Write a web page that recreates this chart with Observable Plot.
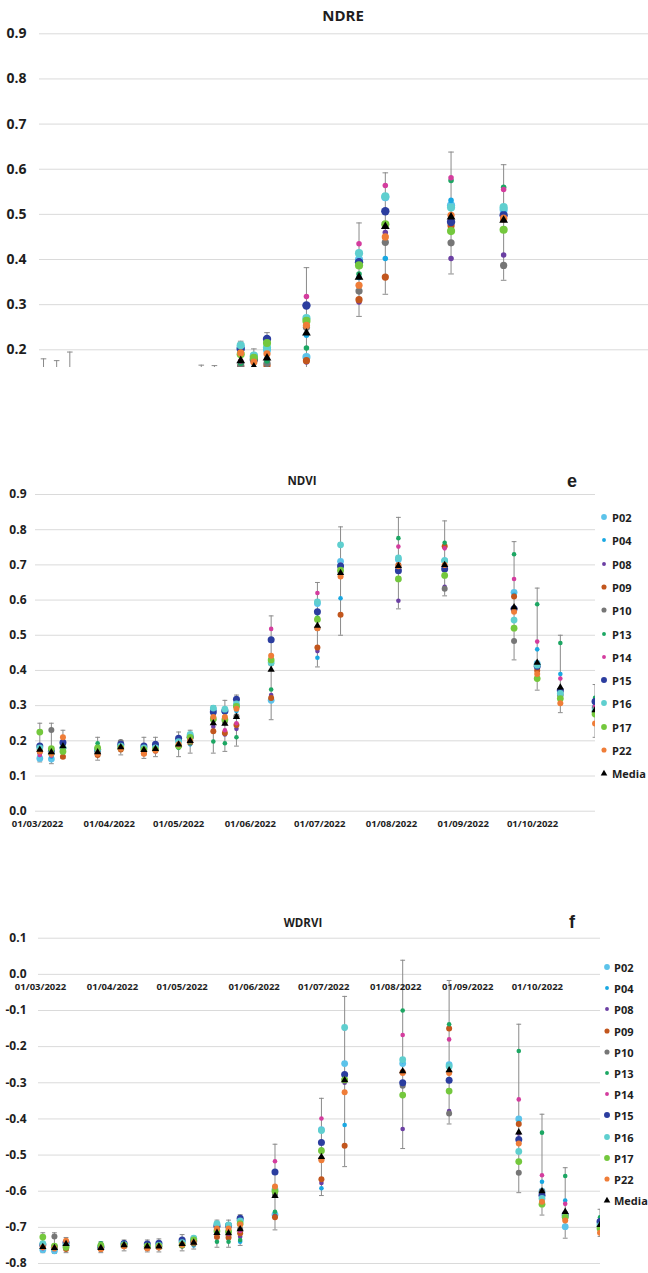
<!DOCTYPE html>
<html><head><meta charset="utf-8">
<script src="https://cdn.jsdelivr.net/npm/d3@7"></script>
<script src="https://cdn.jsdelivr.net/npm/@observablehq/plot@0.6"></script>
<style>
body{margin:0;background:#fff;}
#root{position:relative;width:648px;height:1273px;overflow:hidden;font-family:"Open Sans",sans-serif;color:#1e1e1e;}
.panel{position:absolute;left:0;}
.title{position:absolute;transform:translate(-50%,-50%);white-space:nowrap;font-weight:700;line-height:1;}
.letter{position:absolute;transform:translate(-50%,-50%);font-family:"Liberation Sans",Arial,sans-serif;font-weight:700;font-size:18px;line-height:1;}
.item{position:absolute;white-space:nowrap;font-weight:700;font-size:11px;line-height:1;transform:translateY(-50%);}
.mk{position:absolute;}
</style></head><body><div id="root"></div>
<script>
// ---------- categories ----------
const dates = ["2022-03-02","2022-03-07","2022-03-12","2022-03-27","2022-04-06","2022-04-16","2022-04-21","2022-05-01","2022-05-06","2022-05-16","2022-05-21","2022-05-26","2022-06-10","2022-06-30","2022-07-10","2022-08-04","2022-08-24","2022-09-23","2022-10-03","2022-10-13","2022-10-28"];
const seriesNames = ["P02","P04","P08","P09","P10","P13","P14","P15","P16","P17","P22"];
const monthTicks = ["2022-03-01","2022-04-01","2022-05-01","2022-06-01","2022-07-01","2022-08-01","2022-09-01","2022-10-01"];
const ndreTicks = [0.2,0.3,0.4,0.5,0.6,0.7,0.8,0.9];
const ndviTicks = [0.0,0.1,0.2,0.3,0.4,0.5,0.6,0.7,0.8,0.9];
const wdrviTicks = [-0.8,-0.7,-0.6,-0.5,-0.4,-0.3,-0.2,-0.1,0.0,0.1];

// ---------- styles ----------
const seriesColors = ["#5cc3ea","#19a8e2","#6b3fa3","#c2561d","#767676","#1ca763","#d43c9e","#2b3d9f","#5fcfcf","#74c83d","#ef7d38"];
const dotRadius = [3.4,2.3,2.3,3.0,3.0,2.3,2.3,3.5,3.4,3.4,3.0];

// ---------- NDRE values (first 17 dates) ----------
const NDRE_P02 = [0.125,0.120,0.135,0.115,0.118,0.112,0.112,0.122,0.128,0.205,0.185,0.200,0.184,0.400,0.538,0.520,0.510];
const NDRE_P04 = [0.122,0.118,0.132,0.112,0.115,0.110,0.110,0.125,0.122,0.170,0.160,0.180,0.232,0.360,0.402,0.531,0.505];
const NDRE_P08 = [0.125,0.120,0.138,0.110,0.118,0.108,0.108,0.118,0.125,0.160,0.150,0.160,0.173,0.306,0.460,0.402,0.410];
const NDRE_P09 = [0.128,0.122,0.120,0.110,0.112,0.106,0.110,0.115,0.122,0.163,0.150,0.165,0.176,0.311,0.361,0.475,0.490];
const NDRE_P10 = [0.132,0.150,0.138,0.115,0.120,0.110,0.110,0.118,0.125,0.165,0.152,0.170,0.250,0.330,0.438,0.437,0.387];
const NDRE_P13 = [0.130,0.122,0.130,0.122,0.115,0.110,0.112,0.115,0.120,0.170,0.150,0.175,0.204,0.368,0.475,0.575,0.560];
const NDRE_P14 = [0.122,0.118,0.145,0.112,0.115,0.112,0.110,0.120,0.125,0.175,0.155,0.202,0.318,0.435,0.564,0.581,0.555];
const NDRE_P15 = [0.130,0.120,0.140,0.115,0.118,0.112,0.115,0.125,0.128,0.202,0.178,0.224,0.298,0.394,0.507,0.483,0.498];
const NDRE_P16 = [0.128,0.118,0.132,0.115,0.118,0.112,0.112,0.122,0.130,0.210,0.187,0.205,0.270,0.414,0.540,0.515,0.516];
const NDRE_P17 = [0.150,0.122,0.128,0.116,0.116,0.110,0.110,0.118,0.128,0.190,0.182,0.215,0.264,0.387,0.478,0.463,0.466];
const NDRE_P22 = [0.125,0.120,0.148,0.110,0.115,0.108,0.112,0.120,0.125,0.193,0.173,0.191,0.254,0.343,0.450,0.498,0.492];
const NDRE_Media = [0.130,0.123,0.135,0.114,0.116,0.110,0.111,0.120,0.125,0.176,0.162,0.182,0.237,0.361,0.473,0.494,0.487];
const NDRE_errHi = [0.180,0.176,0.195,0.150,0.148,0.145,0.145,0.166,0.165,0.219,0.202,0.238,0.382,0.481,0.592,0.638,0.610];
const NDRE_errLo = [0.100,0.095,0.105,0.095,0.100,0.095,0.095,0.100,0.100,0.140,0.130,0.140,0.150,0.274,0.323,0.368,0.354];

// ---------- NDVI values ----------
const NDVI_P02 = [0.150,0.148,0.180,0.170,0.185,0.180,0.180,0.200,0.215,0.290,0.284,0.300,0.315,0.590,0.710,0.715,0.712,0.622,0.420,0.330,0.295];
const NDVI_P04 = [0.160,0.155,0.185,0.165,0.180,0.175,0.175,0.205,0.190,0.285,0.280,0.285,0.320,0.436,0.605,0.720,0.710,0.615,0.460,0.390,0.290];
const NDVI_P08 = [0.165,0.160,0.190,0.160,0.190,0.170,0.170,0.190,0.200,0.240,0.218,0.234,0.330,0.455,0.680,0.598,0.638,0.575,0.410,0.345,0.290];
const NDVI_P09 = [0.170,0.165,0.155,0.160,0.175,0.165,0.175,0.185,0.195,0.227,0.222,0.245,0.322,0.465,0.558,0.700,0.753,0.610,0.400,0.330,0.280];
const NDVI_P10 = [0.175,0.231,0.190,0.170,0.197,0.172,0.175,0.185,0.200,0.260,0.255,0.270,0.420,0.520,0.680,0.690,0.632,0.484,0.415,0.340,0.295];
const NDVI_P13 = [0.180,0.175,0.175,0.193,0.180,0.175,0.180,0.180,0.195,0.198,0.193,0.210,0.346,0.550,0.690,0.776,0.763,0.730,0.588,0.478,0.322];
const NDVI_P14 = [0.160,0.158,0.200,0.170,0.180,0.185,0.175,0.190,0.200,0.270,0.230,0.250,0.518,0.620,0.700,0.752,0.747,0.660,0.482,0.377,0.300];
const NDVI_P15 = [0.185,0.170,0.195,0.175,0.190,0.185,0.190,0.207,0.210,0.282,0.285,0.318,0.487,0.567,0.697,0.683,0.688,0.575,0.412,0.343,0.312];
const NDVI_P16 = [0.180,0.165,0.180,0.175,0.185,0.180,0.180,0.198,0.218,0.293,0.290,0.305,0.422,0.595,0.757,0.720,0.712,0.543,0.415,0.335,0.285];
const NDVI_P17 = [0.225,0.178,0.170,0.180,0.180,0.175,0.175,0.185,0.210,0.262,0.260,0.298,0.430,0.545,0.685,0.660,0.670,0.520,0.377,0.320,0.276];
const NDVI_P22 = [0.170,0.163,0.210,0.163,0.178,0.163,0.172,0.190,0.200,0.268,0.268,0.291,0.442,0.520,0.667,0.696,0.700,0.567,0.390,0.307,0.249];
const NDVI_Media = [0.175,0.168,0.185,0.168,0.182,0.174,0.177,0.190,0.200,0.250,0.249,0.268,0.402,0.527,0.677,0.697,0.700,0.580,0.422,0.352,0.287];
const NDVI_errHi = [0.250,0.250,0.230,0.210,0.200,0.210,0.210,0.225,0.230,0.300,0.315,0.330,0.555,0.650,0.808,0.835,0.825,0.766,0.634,0.500,0.360];
const NDVI_errLo = [0.140,0.135,0.150,0.145,0.160,0.150,0.155,0.155,0.165,0.165,0.170,0.185,0.260,0.410,0.500,0.575,0.612,0.430,0.344,0.280,0.210];

// ---------- WDRVI values ----------
const WDRVI_P02 = [-0.762,-0.765,-0.748,-0.755,-0.748,-0.755,-0.752,-0.740,-0.732,-0.693,-0.695,-0.680,-0.665,-0.430,-0.247,-0.247,-0.250,-0.400,-0.600,-0.698,-0.690];
const WDRVI_P04 = [-0.758,-0.762,-0.745,-0.757,-0.750,-0.755,-0.750,-0.738,-0.750,-0.695,-0.698,-0.740,-0.668,-0.592,-0.417,-0.240,-0.252,-0.410,-0.574,-0.626,-0.688];
const WDRVI_P08 = [-0.755,-0.760,-0.745,-0.758,-0.745,-0.752,-0.752,-0.745,-0.742,-0.725,-0.730,-0.726,-0.668,-0.577,-0.300,-0.428,-0.378,-0.440,-0.605,-0.660,-0.690];
const WDRVI_P09 = [-0.752,-0.758,-0.760,-0.760,-0.752,-0.758,-0.756,-0.750,-0.745,-0.727,-0.728,-0.716,-0.672,-0.567,-0.474,-0.270,-0.150,-0.414,-0.610,-0.665,-0.692];
const WDRVI_P10 = [-0.750,-0.725,-0.745,-0.757,-0.745,-0.755,-0.754,-0.750,-0.742,-0.710,-0.712,-0.705,-0.610,-0.510,-0.290,-0.308,-0.385,-0.549,-0.600,-0.662,-0.688];
const WDRVI_P13 = [-0.748,-0.752,-0.750,-0.744,-0.750,-0.752,-0.750,-0.752,-0.745,-0.740,-0.740,-0.735,-0.657,-0.485,-0.290,-0.100,-0.138,-0.212,-0.438,-0.558,-0.672];
const WDRVI_P14 = [-0.758,-0.762,-0.742,-0.757,-0.750,-0.750,-0.752,-0.745,-0.742,-0.705,-0.718,-0.710,-0.517,-0.399,-0.150,-0.168,-0.180,-0.346,-0.556,-0.635,-0.685];
const WDRVI_P15 = [-0.748,-0.755,-0.742,-0.755,-0.745,-0.746,-0.744,-0.735,-0.738,-0.697,-0.695,-0.675,-0.547,-0.465,-0.277,-0.300,-0.293,-0.457,-0.611,-0.666,-0.684];
const WDRVI_P16 = [-0.745,-0.758,-0.750,-0.752,-0.748,-0.752,-0.750,-0.742,-0.730,-0.690,-0.693,-0.682,-0.595,-0.432,-0.147,-0.236,-0.255,-0.490,-0.620,-0.670,-0.695];
const WDRVI_P17 = [-0.727,-0.752,-0.755,-0.750,-0.750,-0.752,-0.752,-0.748,-0.735,-0.710,-0.712,-0.690,-0.600,-0.488,-0.292,-0.334,-0.323,-0.518,-0.636,-0.672,-0.703];
const WDRVI_P22 = [-0.755,-0.758,-0.737,-0.760,-0.752,-0.758,-0.755,-0.748,-0.742,-0.703,-0.703,-0.692,-0.587,-0.514,-0.326,-0.273,-0.273,-0.468,-0.629,-0.681,-0.715];
const WDRVI_Media = [-0.754,-0.757,-0.746,-0.757,-0.749,-0.753,-0.753,-0.746,-0.742,-0.715,-0.716,-0.705,-0.613,-0.505,-0.293,-0.268,-0.265,-0.437,-0.600,-0.657,-0.693];
const WDRVI_errHi = [-0.715,-0.715,-0.728,-0.740,-0.735,-0.735,-0.732,-0.720,-0.725,-0.680,-0.680,-0.665,-0.470,-0.343,-0.061,0.039,-0.017,-0.138,-0.387,-0.535,-0.650];
const WDRVI_errLo = [-0.770,-0.772,-0.770,-0.770,-0.765,-0.768,-0.768,-0.765,-0.760,-0.755,-0.755,-0.750,-0.707,-0.612,-0.532,-0.482,-0.414,-0.604,-0.666,-0.730,-0.725];

// ---------- build ----------
const root = document.getElementById("root");
const DAY = 864e5;
const base = Date.UTC(2022, 2, 1);
const toDate = s => new Date(s + "T00:00:00Z");
const fmtX = d3.utcFormat("%d/%m/%Y");
const fmtY = d => d.toFixed(1);
const cap = {draw(ctx, size) { const w = Math.sqrt(size / Math.PI); ctx.moveTo(-w, 0); ctx.lineTo(w, 0); }};
const TXT = "#1e1e1e", ERR = "#8a8a8a";

function makePlot(cfg) {
  const n = cfg.media.length;
  const dts = dates.slice(0, n).map(toDate);
  const err = dts.map((d, i) => ({date: d, hi: cfg.hi[i], lo: cfg.lo[i]}));
  const marks = [
    Plot.gridY(cfg.ticks, {stroke: "#dadada", strokeOpacity: 1, strokeWidth: 1}),
    Plot.text(cfg.ticks, {y: d => d, text: fmtY, frameAnchor: "left", textAnchor: "end", dx: -cfg.pad, fontSize: cfg.yFont, fontWeight: 700, fill: TXT}),
    Plot.ruleX(err, {x: "date", y1: "lo", y2: "hi", stroke: ERR, strokeWidth: 1, clip: true}),
    Plot.dot(err, {x: "date", y: "hi", symbol: cap, r: cfg.capR, stroke: ERR, fill: "none", strokeWidth: 1, clip: true}),
    Plot.dot(err, {x: "date", y: "lo", symbol: cap, r: cfg.capR, stroke: ERR, fill: "none", strokeWidth: 1, clip: true})
  ];
  seriesNames.forEach((s, k) => {
    const vals = cfg.series[k];
    marks.push(Plot.dot(dts.map((d, i) => ({date: d, v: vals[i]})), {x: "date", y: "v", fill: seriesColors[k], r: dotRadius[k] * cfg.scale, clip: true}));
  });
  marks.push(Plot.dot(dts.map((d, i) => ({date: d, v: cfg.media[i]})), {x: "date", y: "v", symbol: "triangle", fill: "#000", r: 2.7 * cfg.scale, clip: true}));
  if (cfg.xDy != null) {
    marks.push(Plot.text(monthTicks.map(toDate), {x: d => d, y: () => 0, text: fmtX, dy: cfg.xDy, fontSize: 9.5, fontWeight: 700, fill: TXT, lineAnchor: "middle"}));
  }
  return Plot.plot({
    width: 648, height: cfg.height,
    marginLeft: cfg.ml, marginRight: cfg.mr, marginTop: cfg.mt, marginBottom: cfg.mb,
    x: {type: "utc", domain: cfg.xDomain, axis: null},
    y: {domain: cfg.yDomain, axis: null},
    style: {fontFamily: "Open Sans", background: "transparent", overflow: "visible"},
    marks
  });
}

function place(el, top) {
  const wrap = document.createElement("div");
  wrap.className = "panel"; wrap.style.top = top + "px";
  wrap.appendChild(el); root.appendChild(wrap);
}
function label(text, cls, x, y, size) {
  const d = document.createElement("div");
  d.className = cls; d.textContent = text;
  d.style.left = x + "px"; d.style.top = y + "px";
  if (size) d.style.fontSize = size + "px";
  root.appendChild(d);
}
function legend(x0, tx, y0, step) {
  const items = seriesNames.concat(["Media"]);
  items.forEach((name, k) => {
    const cy = y0 + k * step;
    const svgNS = "http://www.w3.org/2000/svg";
    const s = document.createElementNS(svgNS, "svg");
    s.setAttribute("width", 12); s.setAttribute("height", 12);
    s.setAttribute("class", "mk");
    s.style.left = (x0 - 6) + "px"; s.style.top = (cy - 6) + "px";
    s.style.position = "absolute";
    if (k < seriesNames.length) {
      const c = document.createElementNS(svgNS, "circle");
      c.setAttribute("cx", 6); c.setAttribute("cy", 6); c.setAttribute("r", dotRadius[k] * 0.85);
      c.setAttribute("fill", seriesColors[k]); s.appendChild(c);
    } else {
      const p = document.createElementNS(svgNS, "path");
      p.setAttribute("d", "M6,2.8L9.3,8.6L2.7,8.6Z"); p.setAttribute("fill", "#000"); s.appendChild(p);
    }
    root.appendChild(s);
    const t = document.createElement("div");
    t.className = "item"; t.textContent = name;
    t.style.left = tx + "px"; t.style.top = cy + "px";
    root.appendChild(t);
  });
}

// NDRE panel (cropped)
place(makePlot({
  series: [NDRE_P02,NDRE_P04,NDRE_P08,NDRE_P09,NDRE_P10,NDRE_P13,NDRE_P14,NDRE_P15,NDRE_P16,NDRE_P17,NDRE_P22],
  media: NDRE_Media, hi: NDRE_errHi, lo: NDRE_errLo, ticks: ndreTicks,
  height: 367, ml: 39, mr: 0, mt: 33.3, mb: 0,
  xDomain: [new Date(base - 0.53 * DAY), new Date(base + 231.1 * DAY)],
  yDomain: [0.1608, 0.9], pad: 13, yFont: 14, capR: 2.8, scale: 1.2, xDy: null
}), 0);
label("NDRE", "title", 343, 15, 15);

// NDVI panel
place(makePlot({
  series: [NDVI_P02,NDVI_P04,NDVI_P08,NDVI_P09,NDVI_P10,NDVI_P13,NDVI_P14,NDVI_P15,NDVI_P16,NDVI_P17,NDVI_P22],
  media: NDVI_Media, hi: NDVI_errHi, lo: NDVI_errLo, ticks: ndviTicks,
  height: 380, ml: 35, mr: 53, mt: 34, mb: 29.3,
  xDomain: [new Date(base - 0.86 * DAY), new Date(base + 241.2 * DAY)],
  yDomain: [0, 0.9], pad: 9, yFont: 12, capR: 2.4, scale: 1, xDy: 13
}), 460);
label("NDVI", "title", 302, 481, 11.5);
label("e", "letter", 572, 481);
legend(604, 612, 517, 23.3);

// WDRVI panel
place(makePlot({
  series: [WDRVI_P02,WDRVI_P04,WDRVI_P08,WDRVI_P09,WDRVI_P10,WDRVI_P13,WDRVI_P14,WDRVI_P15,WDRVI_P16,WDRVI_P17,WDRVI_P22],
  media: WDRVI_Media, hi: WDRVI_errHi, lo: WDRVI_errLo, ticks: wdrviTicks,
  height: 373, ml: 38, mr: 48, mt: 37.7, mb: 10,
  xDomain: [new Date(base - 0.86 * DAY), new Date(base + 241.2 * DAY)],
  yDomain: [-0.8, 0.1], pad: 12, yFont: 12, capR: 2.4, scale: 1, xDy: 13
}), 900);
label("WDRVI", "title", 303, 923, 11.5);
label("f", "letter", 572, 922);
legend(607, 614, 967, 21.2);
</script></body></html>
